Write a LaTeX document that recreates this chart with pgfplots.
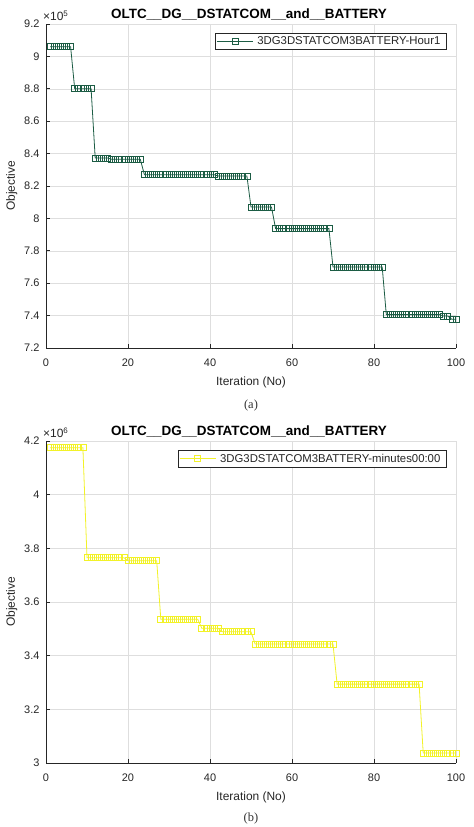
\documentclass[border=0pt]{standalone}
\usepackage{fontspec}
\setmainfont{Liberation Sans}
\newfontfamily\capfont{Liberation Serif}
\usepackage{pgfplots}
\pgfplotsset{compat=1.18}
\definecolor{dgreen}{RGB}{28,92,68}
\definecolor{myyel}{RGB}{242,242,40}
\definecolor{axcol}{RGB}{38,38,38}
\pgfplotsset{
  mystyle/.style={
    scale only axis, width=410bp,
    xmin=0, xmax=100, xtick={0,20,...,100},
    axis x line=bottom, axis y line=left,
    axis line style={-, line width=0.8bp, draw=axcol},
    tick style={line width=0.8bp, draw=axcol},
    tick align=inside, major tick length=4bp,
    grid=major, major grid style={line width=0.6bp, draw=black!13},
    /pgf/number format/assume math mode=true,
    ticklabel style={font=\fontsize{11}{12}\selectfont, text=axcol},
    xticklabel style={yshift=-7bp},
    yticklabel style={xshift=-3bp},
    xlabel={Iteration (No)}, ylabel={Objective},
    label style={font=\fontsize{12}{13}\selectfont, text=axcol},
    xlabel style={at={(axis description cs:0.5,0)}, anchor=base, yshift=-37bp},
    ylabel style={at={(axis description cs:0,0.5)}, anchor=south, yshift=25bp},
    every y tick scale label/.style={at={(rel axis cs:0,1)}, anchor=south west, inner sep=0pt, yshift=3bp, text=axcol},
    legend style={at={(rel axis cs:0.976,0.972)}, anchor=north east, font=\fontsize{11.4}{12.5}\selectfont,
      draw=axcol, line width=0.6bp, inner xsep=1.5pt, inner ysep=1.5pt, row sep=0pt, text=axcol,
      nodes={inner xsep=4pt}},
    legend image code/.code={\draw[mark repeat=2,mark phase=2] plot coordinates {(0bp,0bp)(18bp,0bp)(36bp,0bp)};},
  }
}
\begin{document}
\begin{tikzpicture}
\path[use as bounding box] (0,0) rectangle (474bp,-827bp);
\begin{axis}[mystyle, name=top, at={(46bp,-348bp)}, anchor=south west, height=324bp,
  ymin=720000, ymax=920000, ytick={720000,740000,...,920000},
  scaled y ticks=base 10:-5,
  ytick scale label code/.code={\fontsize{12}{12}\selectfont ×10\textsuperscript{5}}]
\addplot[color=dgreen, line width=0.8bp, mark=square, mark size=3bp, mark options={line width=0.7bp}]
 table[row sep=\\] {x y\\
1 906000\\2 906000\\3 906000\\4 906000\\5 906000\\6 906000\\
7 880000\\8 880000\\9 880000\\10 880000\\11 880000\\
12 837300\\13 837300\\14 837300\\15 837300\\
16 836500\\17 836500\\18 836500\\19 836500\\20 836500\\21 836500\\22 836500\\23 836500\\
24 827000\\25 827000\\26 827000\\27 827000\\28 827000\\29 827000\\30 827000\\31 827000\\32 827000\\
33 827000\\34 827000\\35 827000\\36 827000\\37 827000\\38 827000\\39 827000\\40 827000\\41 827000\\
42 826200\\43 826200\\44 826200\\45 826200\\46 826200\\47 826200\\48 826200\\49 826200\\
50 807000\\51 807000\\52 807000\\53 807000\\54 807000\\55 807000\\
56 793700\\57 793700\\58 793700\\59 793700\\60 793700\\61 793700\\62 793700\\63 793700\\64 793700\\
65 793700\\66 793700\\67 793700\\68 793700\\69 793700\\
70 770000\\71 770000\\72 770000\\73 770000\\74 770000\\75 770000\\76 770000\\77 770000\\78 770000\\
79 770000\\80 770000\\81 770000\\82 770000\\
83 740600\\84 740600\\85 740600\\86 740600\\87 740600\\88 740600\\89 740600\\90 740600\\91 740600\\
92 740600\\93 740600\\94 740600\\95 740600\\96 740600\\
97 739700\\98 739700\\99 737700\\100 737700\\
};
\addlegendentry{3DG3DSTATCOM3BATTERY-Hour1}
\end{axis}
\node[font=\bfseries\fontsize{13.5}{15}\selectfont, anchor=base, text=black, xshift=-2bp, yshift=6bp] at (top.north) {OLTC\_\_DG\_\_DSTATCOM\_\_and\_\_BATTERY};
\node[font=\capfont\fontsize{12.5}{14}\selectfont, anchor=base, text=black!80] at (251bp,-408bp) {(a)};
\begin{axis}[mystyle, name=bot, at={(46bp,-763bp)}, anchor=south west, height=322bp,
  ymin=3000000, ymax=4200000, ytick={3000000,3200000,...,4200000},
  scaled y ticks=base 10:-6,
  ytick scale label code/.code={\fontsize{12}{12}\selectfont ×10\textsuperscript{6}}]
\addplot[color=myyel, line width=0.8bp, mark=square, mark size=3bp, mark options={line width=0.7bp}]
 table[row sep=\\] {x y\\
1 4175000\\2 4175000\\3 4175000\\4 4175000\\5 4175000\\6 4175000\\7 4175000\\8 4175000\\9 4175000\\
10 3765000\\11 3765000\\12 3765000\\13 3765000\\14 3765000\\15 3765000\\16 3765000\\17 3765000\\18 3765000\\19 3765000\\
20 3754000\\21 3754000\\22 3754000\\23 3754000\\24 3754000\\25 3754000\\26 3754000\\27 3754000\\
28 3536000\\29 3536000\\30 3536000\\31 3536000\\32 3536000\\33 3536000\\34 3536000\\35 3536000\\36 3536000\\37 3536000\\
38 3502000\\39 3502000\\40 3502000\\41 3502000\\42 3502000\\
43 3489000\\44 3489000\\45 3489000\\46 3489000\\47 3489000\\48 3489000\\49 3489000\\50 3489000\\
51 3443500\\52 3443500\\53 3443500\\54 3443500\\55 3443500\\56 3443500\\57 3443500\\58 3443500\\59 3443500\\60 3443500\\
61 3443500\\62 3443500\\63 3443500\\64 3443500\\65 3443500\\66 3443500\\67 3443500\\68 3443500\\69 3443500\\70 3443500\\
71 3294000\\72 3294000\\73 3294000\\74 3294000\\75 3294000\\76 3294000\\77 3294000\\78 3294000\\79 3294000\\80 3294000\\
81 3294000\\82 3294000\\83 3294000\\84 3294000\\85 3294000\\86 3294000\\87 3294000\\88 3294000\\89 3294000\\90 3294000\\91 3294000\\
92 3037000\\93 3037000\\94 3037000\\95 3037000\\96 3037000\\97 3037000\\98 3037000\\99 3037000\\100 3037000\\
};
\addlegendentry{3DG3DSTATCOM3BATTERY-minutes00:00}
\end{axis}
\node[font=\bfseries\fontsize{13.5}{15}\selectfont, anchor=base, text=black, xshift=-2bp, yshift=6bp] at (bot.north) {OLTC\_\_DG\_\_DSTATCOM\_\_and\_\_BATTERY};
\node[font=\capfont\fontsize{12.5}{14}\selectfont, anchor=base, text=black!80] at (251bp,-821bp) {(b)};
\end{tikzpicture}
\end{document}
